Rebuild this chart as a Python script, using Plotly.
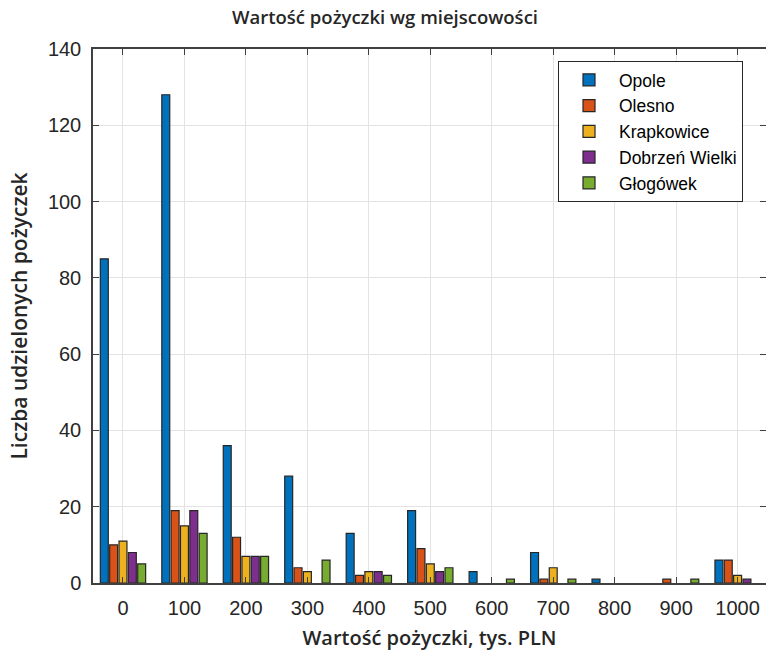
import plotly.graph_objects as go

categories = [0, 100, 200, 300, 400, 500, 600, 700, 800, 900, 1000]
tick_labels = ["0", "100", "200", "300", "400", "500", "600", "700", "800", "900", "1000"]

opole = [85, 128, 36, 28, 13, 19, 3, 8, 1, 0, 6]
olesno = [10, 19, 12, 4, 2, 9, 0, 1, 0, 1, 6]
krapkowice = [11, 15, 7, 3, 3, 5, 0, 4, 0, 0, 2]
dobrzen = [8, 19, 7, 0, 3, 3, 0, 0, 0, 0, 1]
glogowek = [5, 13, 7, 6, 2, 4, 1, 1, 0, 1, 0]

series_names = ["Opole", "Olesno", "Krapkowice", "Dobrzeń Wielki", "Głogówek"]
series_values = [opole, olesno, krapkowice, dobrzen, glogowek]
colors = ["#0072BD", "#D95319", "#EDB120", "#7E2F8E", "#77AC30"]

fig = go.Figure()
for name, vals, col in zip(series_names, series_values, colors):
    fig.add_trace(go.Bar(
        x=categories, y=vals, name=name,
        marker=dict(color=col,
                    line=dict(color="#262626",
                              width=[1.2 if v > 0 else 0 for v in vals])),
    ))

axis_common = dict(
    showline=True, linecolor="#404040", linewidth=1.5, mirror="allticks",
    ticks="inside", ticklen=6, tickwidth=1, tickcolor="#404040",
    showgrid=True, gridcolor="#e3e3e3", gridwidth=1, zeroline=False,
    automargin=False,
    tickfont=dict(family="Liberation Sans", size=20, color="#262626"),
)

title_font = dict(family="Open Sans", size=18.5, color="#262626", weight=600)

fig.update_layout(
    width=766, height=653,
    margin=dict(l=93, r=0, t=49, b=70, autoexpand=False),
    paper_bgcolor="white", plot_bgcolor="white",
    barmode="group", bargap=0.24, bargroupgap=0.15,
    title=dict(
        text="Wartość pożyczki wg miejscowości",
        x=(385 - 93) / 673, xref="paper", xanchor="center",
        y=1 - 18 / 653, yref="container", yanchor="middle",
        font=title_font,
    ),
    xaxis=dict(
        **axis_common,
        range=[-48.8, 1046.2],
        tickvals=categories, ticktext=tick_labels,
        ticklabelstandoff=6,
        title=dict(text="Wartość pożyczki, tys. PLN", standoff=13,
                   font=dict(title_font, size=20)),
    ),
    yaxis=dict(
        **axis_common,
        range=[0, 140], dtick=20,
        ticklabelstandoff=6,
        title=dict(text="Liczba udzielonych pożyczek", standoff=15,
                   font=dict(title_font, size=21)),
    ),
    legend=dict(
        x=(558 - 93) / 673, y=(583 - 61) / 534, xanchor="left", yanchor="top",
        bgcolor="white", bordercolor="#262626", borderwidth=1,
        font=dict(family="Liberation Sans", size=17.5, color="#000000"),
        tracegroupgap=0, itemwidth=50,
    ),
)

fig.write_html("out.html",
               config={"displayModeBar": False},
               post_script="document.body.style.margin='0';document.body.style.overflow='hidden';")
